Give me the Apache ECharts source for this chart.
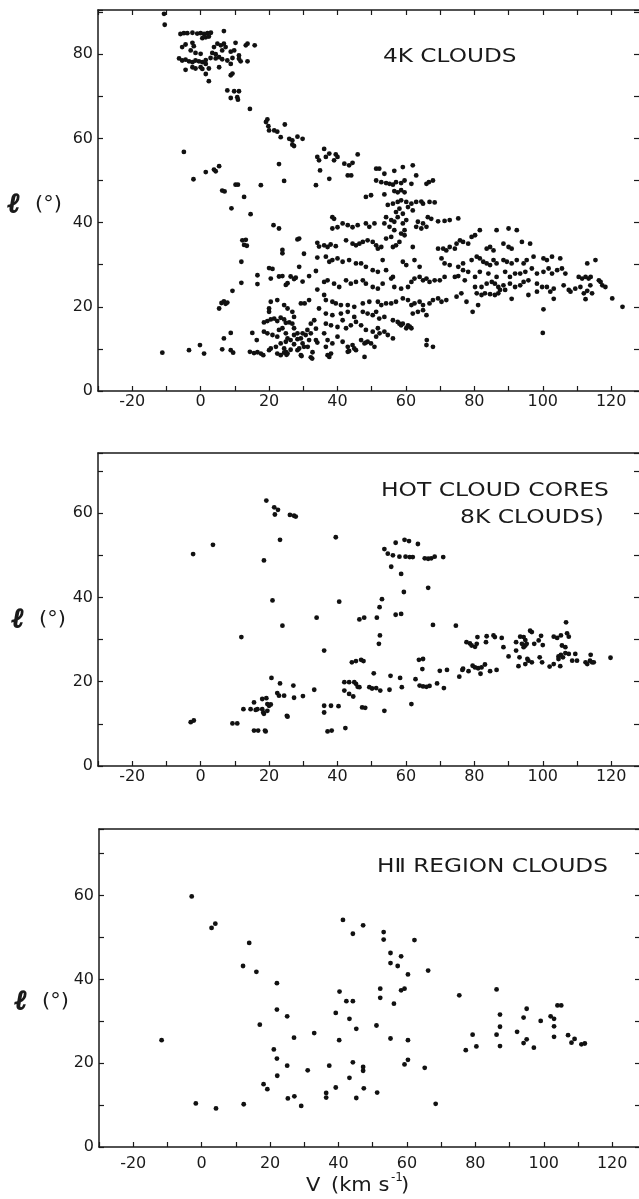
<!DOCTYPE html>
<html><head><meta charset="utf-8">
<script src="https://cdn.jsdelivr.net/npm/echarts@6/dist/echarts.min.js"></script>
<style>html,body{margin:0;padding:0;overflow:hidden;background:#fff;width:639px;height:1199px}#c{position:absolute;left:0;top:0;width:650px;height:1199px}</style>
</head><body><div id="c"></div><script>
// Tick labels
const xTickLabels = ['-20','0','20','40','60','80','100','120'];
const yTickLabels = ['0','20','40','60','80'];
// Panel texts
const panelTitles = ['4K CLOUDS', 'HOT CLOUD CORES', '8K CLOUDS)', 'H\u2161 REGION CLOUDS'];
const xTitle = 'V';
const yTitle = '\u2113';

// [V (km/s), l (deg)]
const clouds4K = [
[-10.7,89.6],[-10.5,87.0],
[-5.9,84.8],[-4.9,85.0],[-3.9,85.0],[-2.4,85.1],[-1.0,84.9],[0.0,85.0],[1.0,84.8],[2.0,85.0],[3.0,85.1],[6.8,85.5],
[0.5,83.8],[1.5,84.0],[2.4,84.2],
[-5.4,81.7],[-4.4,82.3],[-2.4,82.7],[-2.0,81.9],[3.9,81.7],[4.9,82.5],[5.9,82.1],[6.8,82.5],[7.3,81.7],[10.2,82.7],[13.2,82.1],[13.7,82.5],[15.8,82.1],
[-2.9,80.9],[-1.5,80.3],[0.0,80.1],[3.4,80.3],[4.4,80.0],[6.3,80.9],[8.8,80.6],[9.8,80.9],[11.2,79.7],
[-6.3,79.0],[-5.4,78.5],[-4.4,78.7],[-3.4,78.3],[-2.4,78.1],[-1.5,78.5],[-0.5,78.3],[0.5,78.1],[1.5,78.6],[2.9,79.1],[4.4,79.0],[5.4,79.3],[6.3,78.8],[7.8,78.5],[9.3,79.1],[11.2,78.9],[11.7,78.3],[13.7,78.3],
[8.8,77.7],[1.5,77.7],
[-4.4,76.3],[-2.4,76.9],[-1.5,76.6],[0.0,76.9],[0.5,76.5],[2.4,76.6],[5.4,76.9],
[1.5,75.3],[8.8,75.0],[9.3,75.4],[2.4,73.6],
[7.8,71.4],[9.8,71.2],[11.2,71.2],[8.8,69.6],[10.7,69.8],[10.9,69.2],[14.4,67.0],
[19.1,63.9],[19.5,64.5],[19.8,62.9],[20.0,61.9],[21.5,61.9],[22.4,61.6],[24.6,63.3],
[23.4,60.3],[25.9,59.9],[26.8,59.5],[28.3,60.4],[29.8,59.9],[26.8,58.5],[27.3,58.2],
[-4.9,56.8],[34.1,55.6],[34.6,54.8],[34.9,52.4],[22.9,53.9],[5.4,53.4],[3.9,52.6],[4.4,52.2],[1.5,52.0],[-2.1,50.3],[24.4,49.9],[17.6,48.9],[10.2,49.0],[10.9,49.0],[33.7,48.9],[6.3,47.6],[7.0,47.4],[12.7,46.1],[9.0,43.4],[14.6,42.0],
[21.3,39.4],[22.9,38.6],[12.2,35.8],[13.2,35.9],[13.5,34.5],[12.7,34.7],[28.3,36.0],[28.8,36.2],[34.1,35.2],[34.6,34.3],[23.9,33.5],[23.9,32.7],[30.2,32.6],[34.1,31.7],[11.9,30.7],[28.8,29.5],[20.0,29.2],[21.0,29.0],[33.7,28.5],[31.7,27.3],[16.6,27.5],[16.6,25.4],[22.9,27.2],[23.9,27.3],[26.3,27.2],[27.3,26.6],[27.8,26.9],[20.5,26.7],[29.8,26.0],[24.9,25.2],[25.4,25.6],[11.9,25.7],[34.1,24.1],[9.3,23.8],
[6.1,20.9],[6.8,21.3],[7.3,20.7],[7.8,21.0],[5.4,19.6],[29.3,20.8],[30.4,20.8],[31.7,21.6],[34.6,19.6],[20.5,21.2],[22.4,21.6],[20.0,19.6],[20.0,18.8],[24.4,20.4],[25.4,19.6],[26.8,18.8],[27.3,17.6],
[18.5,16.3],[19.5,16.6],[20.5,17.0],[21.5,17.2],[22.4,16.6],[23.4,17.4],[24.4,17.0],[24.9,16.2],[25.9,16.3],[26.8,16.0],[27.3,14.9],[18.5,14.1],[19.5,13.7],[21.0,13.3],[22.4,12.9],[22.9,14.5],[23.9,14.9],[24.9,13.7],[25.4,12.5],[26.3,12.1],[27.3,13.3],[28.3,13.7],[29.3,12.5],[29.8,11.3],[30.2,10.5],[28.8,10.1],[27.3,11.1],[26.3,9.8],[24.9,11.7],[24.4,10.1],[23.4,11.3],[22.0,10.5],[20.5,10.1],[24.9,9.3],[25.4,8.9],[28.3,9.7],[29.3,8.5],[23.4,8.5],[29.8,13.7],[31.2,14.5],[32.2,16.0],[33.2,16.8],[33.7,14.8],[32.2,13.7],[31.7,12.1],[32.7,9.2],[32.2,8.0],[33.7,12.1],[34.1,11.5],[30.7,13.3],[28.3,12.3],
[-11.2,9.1],[-3.4,9.7],[-0.2,10.9],[1.0,8.9],[6.3,9.9],[6.8,12.5],[8.8,13.8],[8.8,9.7],[9.5,9.1],[15.1,13.8],[16.4,12.1],[14.4,9.3],[15.6,9.0],[16.6,9.2],[17.6,8.9],[18.3,8.5],[20.0,9.7],[22.4,8.9],[24.4,9.1],[25.1,8.6],[29.5,8.3],[31.3,10.5],[32.6,7.7],
[36.1,57.5],[36.6,55.6],[37.6,56.4],[39.5,56.2],[40.0,55.6],[39.0,54.8],[37.6,50.4],[42.0,54.0],[43.4,53.6],[44.4,54.2],[45.9,56.2],[43.0,51.2],[44.0,51.2],
[51.3,52.8],[52.2,52.8],[53.7,51.6],[56.6,52.3],[59.1,53.2],[62.0,53.6],
[51.3,50.0],[52.8,49.6],[54.2,49.4],[55.2,49.2],[56.2,49.0],[57.1,49.6],[58.6,49.4],[59.6,50.0],[61.6,49.2],[63.0,51.2],[66.0,49.2],[66.7,49.6],[67.9,50.0],
[48.3,46.1],[49.8,46.5],[53.7,46.7],[56.6,47.5],[57.6,47.2],[58.6,47.7],[59.6,47.2],
[54.7,44.2],[56.2,44.5],[57.6,44.9],[58.6,45.3],[60.1,44.9],[61.6,44.5],[63.0,44.9],[64.5,45.0],[65.0,44.5],[66.9,44.9],[68.4,44.8],
[57.1,42.5],[58.1,43.3],[59.1,42.1],[60.6,43.7],[62.0,42.9],
[54.2,41.3],[55.7,40.6],[56.6,40.2],[57.6,41.3],[59.1,39.8],[60.1,40.6],[63.5,40.2],[65.0,39.8],[66.4,41.3],[67.4,40.9],
[53.7,39.8],[55.2,39.0],[56.6,38.2],[58.6,37.4],[59.6,38.2],[63.0,39.0],[64.5,38.6],[66.0,39.0],
[69.4,40.3],[71.3,40.4],[72.8,40.6],[75.3,41.0],[38.5,41.3],[39.0,40.9],
[38.5,38.6],[40.0,38.9],[41.5,39.8],[43.0,39.4],[44.4,38.9],[45.9,39.4],[48.3,39.8],[49.3,39.0],[50.8,39.8],
[36.1,34.6],[37.1,34.2],[38.0,34.8],[39.5,34.4],
[42.5,35.8],[44.4,35.0],[45.4,34.6],[46.4,35.0],[47.4,35.4],[48.8,35.8],[50.3,35.4],[51.3,34.6],[51.8,33.8],[52.8,34.2],[54.2,36.2],[55.7,36.6],[56.2,34.2],[57.1,34.6],[58.1,35.4],[59.6,37.0],[62.0,34.2],
[69.4,33.8],[70.9,33.8],[71.8,33.4],[72.8,34.2],[74.3,33.8],[74.8,35.0],[75.8,35.8],[76.7,35.4],[78.2,35.0],[79.2,36.6],[80.2,37.0],[81.6,38.2],
[86.5,38.2],[90.0,38.6],[92.4,38.2],[88.5,35.0],[90.0,34.2],[90.9,33.8],[93.9,35.4],[96.3,35.0],[83.6,33.8],[84.6,34.2],[85.6,33.4],
[36.6,31.9],[37.6,30.7],[38.5,31.1],[40.0,31.5],[41.5,30.7],[43.4,31.1],[45.4,30.3],[46.9,30.3],[48.3,29.5],[50.3,28.7],[51.8,28.3],[53.2,31.1],[54.2,28.7],[56.2,27.1],[59.1,30.7],[60.1,29.9],[62.5,31.1],[64.0,29.5],
[70.4,31.5],[71.3,30.3],[72.8,29.9],[75.3,29.5],[76.7,30.3],[79.2,31.1],[80.7,31.9],[81.6,31.5],[82.6,30.7],[83.6,30.3],[84.6,29.9],[85.6,31.1],[86.5,30.3],[88.5,31.1],[89.5,30.7],[90.9,30.3],[92.4,31.1],[94.4,30.3],[95.3,31.1],[97.3,31.9],[100.2,31.5],[101.2,31.1],[102.7,31.9],[105.1,31.5],
[76.7,28.7],[78.2,28.3],[80.2,27.1],[81.6,28.3],[84.1,27.9],[86.5,27.1],[89.0,28.3],[90.4,27.1],[91.9,27.9],[93.4,27.9],[94.9,28.3],[96.8,29.1],[98.3,27.9],[100.2,28.3],[101.7,29.1],[102.7,27.9],[104.2,28.7],[105.6,29.1],[106.6,27.9],
[110.5,27.1],[111.5,26.7],[112.5,27.1],[113.4,26.7],[114.0,27.1],[116.4,26.3],[116.9,25.9],[113.0,30.3],[115.4,31.1],
[36.1,25.9],[37.1,26.3],[39.0,25.5],[40.5,24.7],[42.5,26.3],[43.9,25.5],[45.4,25.9],[47.4,26.3],[48.3,25.5],[50.3,24.7],[51.8,24.3],[53.2,25.5],[55.7,26.7],[56.6,24.7],[58.6,24.3],[60.6,24.7],[61.6,25.9],[62.5,26.7],[64.0,27.1],[65.0,26.3],[66.0,26.7],[66.9,25.9],[68.4,26.3],[69.9,26.3],[71.3,27.1],
[74.3,27.1],[75.3,27.3],[77.2,26.3],[80.2,24.7],[82.1,24.7],[83.6,25.5],[85.1,25.9],[86.0,25.5],[87.0,24.7],[88.5,25.1],[90.4,25.5],[91.9,24.7],[93.4,25.1],[94.4,25.9],[95.8,26.3],[98.3,25.5],[99.8,24.7],[101.2,24.7],[103.2,24.3],[106.1,25.1],[108.1,23.6],[109.5,24.3],[111.0,24.7],[113.0,23.8],[113.9,25.1],[117.4,25.1],[118.3,24.7],
[80.7,23.2],[82.1,22.8],[83.1,23.2],[84.6,23.0],[86.0,22.8],[87.0,23.2],[87.5,24.0],[89.0,24.0],[90.9,21.9],[95.8,22.8],[98.3,23.6],[102.2,23.6],[103.2,21.9],[107.6,24.0],[112.0,23.2],[112.5,21.8],[114.4,23.2],
[120.3,22.0],[123.3,20.0],
[36.1,22.8],[36.6,21.6],[38.5,21.2],[39.5,20.8],[41.0,20.4],[43.0,20.4],[44.9,20.0],[47.4,20.8],[49.3,21.2],[51.8,21.2],[52.8,20.4],[54.2,20.8],[55.7,20.8],[57.1,21.2],[59.1,22.0],[60.6,21.6],[61.6,20.4],[62.5,20.8],[64.0,21.2],[65.0,20.4],[66.9,20.8],[67.9,21.6],[69.4,22.0],[70.4,21.2],[71.8,21.6],[74.8,22.4],[76.2,23.2],[77.7,21.2],[79.5,18.8],
[36.6,18.4],[38.5,18.0],[41.0,18.4],[43.0,18.8],[44.9,17.6],[47.4,18.8],[48.8,18.4],[50.3,18.0],[51.3,18.8],[52.2,17.2],[53.7,17.6],[56.2,16.8],[57.6,16.4],[59.1,16.0],[60.6,15.6],[61.6,14.9],[62.0,18.4],[63.5,18.8],[65.0,19.2],[66.0,18.0],
[36.6,16.0],[38.1,15.6],[40.0,15.2],[41.5,16.8],[42.5,14.9],[43.9,15.6],[45.4,16.4],[46.9,15.6],[48.3,14.5],[50.3,14.1],[51.8,14.9],[53.7,14.1],[54.7,13.3],
[81.1,20.4],[100.2,19.4],[100.0,13.8],
[36.1,13.7],[37.1,12.1],[38.5,11.3],[40.0,12.9],[41.5,11.7],[43.0,10.5],[44.4,10.9],[45.4,9.7],[46.9,12.1],[47.9,11.3],[48.8,11.7],[49.8,11.3],[50.8,10.5],[51.3,12.9],[52.3,13.7],[36.6,10.5],[37.1,8.5],[37.6,8.1],[38.1,8.9],[43.0,9.3],[43.4,9.5],[44.9,10.1],[47.9,8.1],[48.3,11.5],[56.2,12.5],[58.1,16.0],[58.6,15.6],[60.1,14.9],[61.1,15.3],[66.1,12.1],[66.0,10.9],[67.9,10.5]
];

const hotCores = [
[19.2,63.0],[21.5,61.4],[22.6,60.8],[21.7,59.7],[26.1,59.6],[27.3,59.4],[27.8,59.2],[23.2,53.7],[3.6,52.5],[-2.2,50.3],[18.5,48.8],[21.0,39.3],[23.9,33.3],[33.9,35.2],[11.9,30.6],
[20.7,20.9],[23.2,19.6],[27.1,19.1],[33.2,18.1],[22.4,17.3],[22.9,16.7],[24.4,16.7],[27.3,16.2],[29.9,16.6],[18.0,15.9],[19.2,16.1],[15.6,15.1],
[14.6,13.5],[16.1,13.3],[16.6,13.5],[18.0,13.5],[12.5,13.5],[19.5,14.7],[20.0,14.3],[20.5,14.6],[19.5,13.1],[18.5,12.4],[18.3,12.7],[25.2,11.9],[25.4,11.7],
[-2.9,10.4],[-2.0,10.8],[9.3,10.1],[10.7,10.1],[15.6,8.4],[16.8,8.4],[19.0,8.2],[18.8,8.4],
[39.5,54.3],[36.1,27.4],[40.5,39.0],[53.7,51.5],[57.0,53.0],[59.6,53.7],[60.9,53.4],[63.5,52.7],
[54.7,50.4],[56.2,50.0],[58.1,49.7],[59.9,49.7],[61.1,49.6],[62.0,49.6],[65.5,49.3],[66.5,49.2],[67.4,49.3],[68.4,49.7],[70.9,49.6],
[55.7,47.3],[58.6,45.6],[59.4,41.3],[66.5,42.3],[57.0,35.9],[58.6,36.1],[53.0,39.6],[52.3,37.7],[46.4,34.8],[47.8,35.2],[51.5,35.2],[67.9,33.5],[74.6,33.3],[52.4,31.0],[52.1,29.0],
[77.7,29.4],[78.7,29.1],[79.2,28.6],[80.2,28.3],[80.7,29.0],[80.9,30.6],[83.6,30.8],[85.6,31.0],[86.0,30.6],[88.0,30.4],[83.4,29.4],[88.5,28.2],[90.0,26.0],
[92.2,29.4],[93.4,30.7],[94.4,30.6],[94.9,29.9],[93.9,29.0],[94.9,28.6],[95.3,29.0],[94.4,28.2],[92.2,27.4],[96.3,32.1],[96.8,31.8],[98.8,29.8],[99.5,30.9],[100.0,28.7],[97.5,29.0],
[93.2,25.8],[95.5,25.4],[96.8,24.6],[95.8,25.0],[92.9,23.7],[94.9,24.2],[99.1,25.8],[99.8,24.6],[102.0,23.6],[103.2,24.2],[105.1,23.7],
[103.2,30.7],[104.2,30.4],[105.3,31.0],[107.1,31.5],[107.6,30.7],[106.8,34.1],[105.6,28.6],[106.6,28.2],
[104.6,26.0],[105.3,26.4],[105.9,25.8],[106.6,26.8],[107.6,26.6],[108.6,25.0],[109.5,26.6],[110.0,25.0],[104.6,25.4],
[112.5,24.6],[113.0,24.2],[113.8,25.0],[114.0,26.4],[114.4,24.6],[114.9,24.6],[119.8,25.7],
[76.5,22.8],[76.7,23.1],[78.3,22.5],[79.5,23.8],[80.2,23.4],[81.1,23.2],[82.1,23.4],[83.1,24.1],[81.8,21.9],[84.6,22.5],[86.5,22.8],[75.6,21.2],[69.9,22.6],[72.0,22.8],[69.1,19.6],[71.1,18.5],
[63.8,25.2],[65.0,25.4],[64.8,23.0],[62.8,20.6],[64.0,19.1],[65.0,18.9],[66.0,18.8],[66.9,19.0],[61.6,14.7],[58.3,20.9],[58.8,18.7],[55.2,18.1],[55.5,21.4],[50.6,22.0],[53.7,13.1],
[49.3,18.7],[50.1,18.4],[51.3,18.5],[52.5,17.9],[45.4,19.5],[45.9,18.8],[46.4,18.7],[42.0,19.9],[43.4,19.9],[44.9,19.9],[42.0,17.9],[43.4,17.1],[44.6,16.5],
[44.2,24.6],[45.4,24.9],[46.9,25.2],[47.6,24.9],[47.2,13.9],[48.1,13.8],[38.1,14.3],[40.3,14.2],[37.1,8.2],[38.3,8.4],[42.3,9.0],[36.1,14.3],[36.1,12.7]
];

const hiiClouds = [
[-11.7,25.5],[-2.9,59.8],[2.9,52.3],[4.0,53.3],[-1.7,10.4],[4.2,9.2],[12.3,10.2],[13.9,48.7],[12.1,43.2],[16.0,41.8],[22.0,39.1],[22.0,32.8],[25.0,31.2],[17.0,29.2],[27.0,26.1],[32.9,27.2],
[21.1,23.3],[22.0,21.1],[25.0,19.4],[31.0,18.3],[22.1,17.0],[18.1,15.0],[19.2,13.8],[25.2,11.6],[27.1,12.1],[29.1,9.8],
[41.3,54.2],[44.2,50.9],[47.2,52.9],[53.2,51.3],[53.2,49.5],[62.2,49.4],[55.2,46.3],[58.3,45.5],[55.2,43.9],[57.3,43.2],[60.3,41.2],[66.2,42.1],[58.3,37.4],[59.3,37.8],[52.2,37.8],[52.2,35.6],[40.3,37.1],[42.3,34.8],[44.2,34.8],[56.2,34.2],[75.3,36.2],[86.2,37.6],
[39.2,32.0],[43.2,30.6],[45.2,28.2],[51.1,29.0],[40.2,25.5],[55.2,25.9],[60.3,25.5],[60.3,20.8],[59.3,19.7],[65.2,18.9],[37.3,19.4],[44.2,20.2],[47.2,19.1],[47.2,18.2],[43.2,16.5],[39.2,14.2],[47.4,14.0],[36.4,12.9],[36.4,11.8],[45.2,11.7],[51.3,13.0],[68.4,10.3],
[77.2,23.1],[79.2,26.8],[80.3,24.0],[86.2,26.8],[87.2,31.6],[87.2,28.7],[87.2,24.1],[92.2,27.5],[94.1,30.9],[95.0,33.0],[94.1,24.8],[95.0,25.7],[97.1,23.7],[99.1,30.1],[102.0,31.2],[103.0,30.6],[103.0,28.8],[103.0,26.3],[104.0,33.8],[105.1,33.8],[107.1,26.7],[108.1,24.9],[109.0,25.8],[111.0,24.5],[112.0,24.7]
];

const FONT = 'DejaVu Sans';
const INK = '#1a1a1a';
const fmtX = v => xTickLabels.indexOf(String(Math.round(v*1000)/1000)) >= 0 ? String(v) : '';
const fmtY = v => yTickLabels.indexOf(String(Math.round(v*1000)/1000)) >= 0 ? String(v) : '';

const panels = [
  {top: 10, height: 381, ymax: 90.5, left: 98, labelMargin: 3, topTicks: true},
  {top: 453, height: 313, ymax: 74.3, left: 98, labelMargin: 3, topTicks: false},
  {top: 829, height: 318, ymax: 75.9, left: 99, labelMargin: 9, topTicks: false}
];
const seriesData = [clouds4K, hotCores, hiiClouds];

const grids = [], xAxes = [], yAxes = [], series = [];
panels.forEach((p, i) => {
  grids.push({left: p.left, top: p.top, width: 544, height: p.height, containLabel: false});
  const lineStyle = {color: INK, width: 1.5};
  const tickStyle = {color: INK, width: 1.2};
  xAxes.push({type: 'value', gridIndex: i, position: 'bottom', min: -30, max: 129, interval: 10,
    axisLine: {show: true, onZero: false, lineStyle},
    axisTick: {show: true, inside: true, length: 5, lineStyle: tickStyle},
    axisLabel: {show: true, formatter: fmtX, margin: p.labelMargin, color: INK, fontSize: 16, fontFamily: FONT, showMinLabel: true, showMaxLabel: true, hideOverlap: false},
    splitLine: {show: false}});
  xAxes.push({type: 'value', gridIndex: i, position: 'top', min: -30, max: 129, interval: 10,
    axisLine: {show: true, onZero: false, lineStyle},
    axisTick: {show: p.topTicks, inside: true, length: 5, lineStyle: tickStyle},
    axisLabel: {show: false}, splitLine: {show: false}});
  yAxes.push({type: 'value', gridIndex: i, position: 'left', min: 0, max: p.ymax, interval: 10,
    axisLine: {show: true, onZero: false, lineStyle},
    axisTick: {show: true, inside: true, length: 5, lineStyle: tickStyle},
    axisLabel: {show: true, formatter: fmtY, margin: 5, color: INK, fontSize: 16, fontFamily: FONT, showMinLabel: true, showMaxLabel: true, hideOverlap: false},
    splitLine: {show: false}});
  yAxes.push({type: 'value', gridIndex: i, position: 'right', min: 0, max: p.ymax, interval: 10,
    axisLine: {show: false, onZero: false, lineStyle},
    axisTick: {show: true, inside: true, length: 8, lineStyle: tickStyle},
    axisLabel: {show: false}, splitLine: {show: false}});
  series.push({type: 'scatter', xAxisIndex: 2*i, yAxisIndex: 2*i, data: seriesData[i],
    symbol: 'circle', symbolSize: 4.8, itemStyle: {color: '#111', opacity: 1}, silent: true});
});

const titleFont = '20px "DejaVu Sans"';
function label(text, x, y, sx, font, strokeW) {
  const style = {text: text, font: font || titleFont, fill: INK, align: 'left', verticalAlign: 'middle'};
  if (strokeW) { style.stroke = INK; style.lineWidth = strokeW; }
  return {type: 'text', x: x, y: y, scaleX: sx, style: style};
}
const yTitleY = [205, 620, 1002];
const yTitleX = [8, 12, 15];
const graphics = [
  label(panelTitles[0], 383, 57, 1.16),
  label(panelTitles[1], 381, 491, 1.17),
  label(panelTitles[2], 460, 518, 1.17),
  label(panelTitles[3], 377, 867, 1.16),
  label(xTitle, 306, 1186, 1.05),
  label('(km s', 331, 1186, 1.05),
  label('-1', 391, 1178, 1.0, '12px "DejaVu Sans"'),
  label(')', 401, 1186, 1.05)
];
yTitleY.forEach((y, i) => {
  graphics.push(label(yTitle, yTitleX[i], y, 1.0, 'italic bold 27px "DejaVu Serif"', 1.6));
  graphics.push(label('(\u00b0)', yTitleX[i] + 27, y, 1.05, '20px "DejaVu Sans"'));
});

const chart = echarts.init(document.getElementById('c'), null, {renderer: 'canvas'});
chart.setOption({
  animation: false,
  backgroundColor: '#fff',
  grid: grids, xAxis: xAxes, yAxis: yAxes, series: series,
  graphic: graphics
});
</script></body></html>
